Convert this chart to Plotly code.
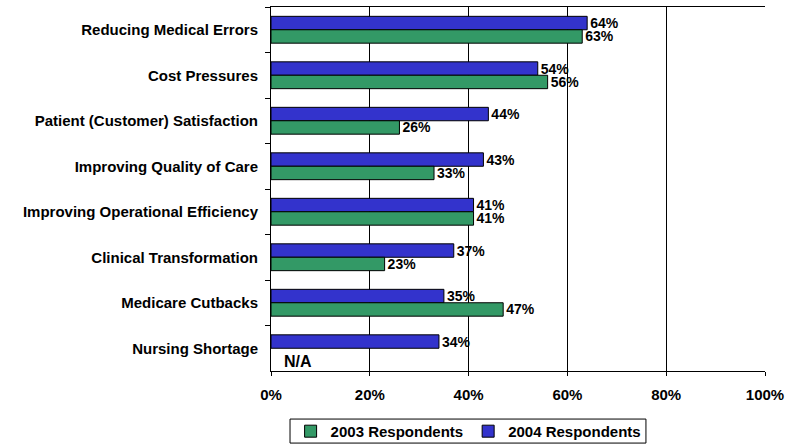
import plotly.graph_objects as go

# categories listed top to bottom
categories = [
    "Reducing Medical Errors",
    "Cost Pressures",
    "Patient (Customer) Satisfaction",
    "Improving Quality of Care",
    "Improving Operational Efficiency",
    "Clinical Transformation",
    "Medicare Cutbacks",
    "Nursing Shortage",
]
values_2004 = [64, 54, 44, 43, 41, 37, 35, 34]
values_2003 = [63, 56, 26, 33, 41, 23, 47, None]
x_ticks = [0, 20, 40, 60, 80, 100]

FONT = "Liberation Sans, Arial, sans-serif"
BLUE = "#3333CC"
GREEN = "#339966"
bold = dict(family=FONT, size=15, color="#000000", weight="bold")
label_font = dict(family=FONT, size=14, color="#000000", weight="bold")

fig = go.Figure()
# blue first so it sits on top of each pair (reversed y axis)
fig.add_trace(go.Bar(
    y=categories, x=values_2004, orientation="h", name="2004 Respondents",
    marker=dict(color=BLUE, line=dict(color="#000000", width=1)),
    text=[f"{v}%" for v in values_2004], textposition="outside",
    constraintext="none", cliponaxis=False, textfont=label_font,
))
fig.add_trace(go.Bar(
    y=categories, x=values_2003, orientation="h", name="2003 Respondents",
    marker=dict(color=GREEN, line=dict(color="#000000", width=1)),
    text=[f"{v}%" if v is not None else "" for v in values_2003], textposition="outside",
    constraintext="none", cliponaxis=False, textfont=label_font,
))

# missing 2003 value for nursing shortage
fig.add_annotation(x=2.2, y=categories[-1], yshift=-13, text="N/A", showarrow=False,
                   xanchor="left", font=dict(family=FONT, size=16, color="#000000", weight="bold"))

# legend frame (tighter than plotly's own border)
fig.add_shape(type="rect", xref="paper", yref="paper", x0=0.0385, x1=0.759, y0=-0.198, y1=-0.132,
              line=dict(color="#000000", width=1), fillcolor="rgba(0,0,0,0)")

fig.update_layout(
    width=785, height=445,
    margin=dict(l=271, r=20, t=7, b=74, autoexpand=False),
    paper_bgcolor="white", plot_bgcolor="white",
    barmode="group", bargap=0.41, bargroupgap=0,
    font=dict(family=FONT, size=15, color="#000000"),
    showlegend=True,
    legend=dict(orientation="h", x=0.40, xanchor="center", y=-0.166, yanchor="middle",
                traceorder="reversed", borderwidth=0, bgcolor="rgba(0,0,0,0)",
                font=bold, itemwidth=30, tracegroupgap=0),
)
fig.update_xaxes(
    range=[0, 100], tickvals=x_ticks, ticktext=[f"{t}%" for t in x_ticks],
    showgrid=True, gridcolor="#000000", gridwidth=1,
    showline=True, linecolor="#000000", linewidth=1, mirror=True,
    ticks="outside", ticklen=4, tickcolor="#000000",
    tickfont=bold, zeroline=False, ticklabelstandoff=6,
)
fig.update_yaxes(
    autorange="reversed", type="category",
    showline=True, linecolor="#000000", linewidth=1,
    ticks="outside", ticklen=5, tickcolor="#000000", tickson="boundaries",
    tickfont=bold, showgrid=False, ticklabelstandoff=9,
)

fig.write_html("out.html", config={"displayModeBar": False},
               post_script="document.body.style.margin='0';")
